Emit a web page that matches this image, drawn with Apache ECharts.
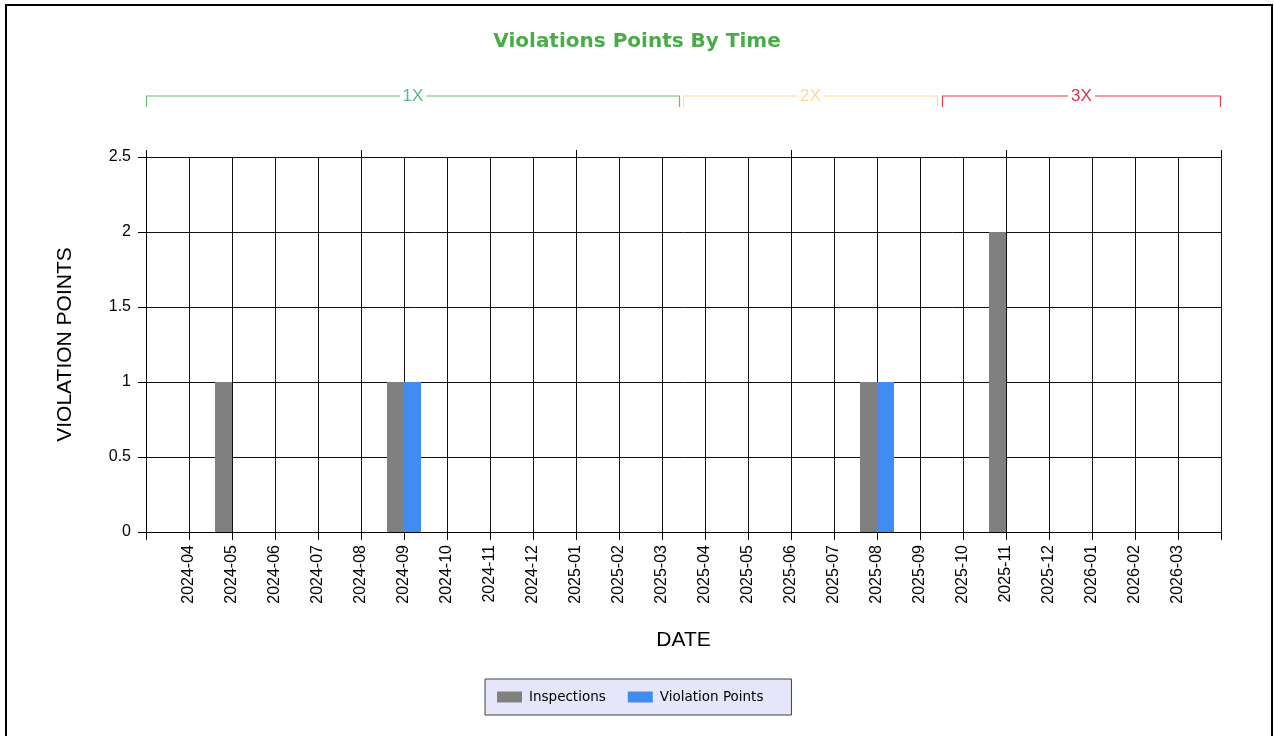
<!DOCTYPE html>
<html>
<head>
<meta charset="utf-8">
<script src="https://cdn.jsdelivr.net/npm/echarts@6/dist/echarts.min.js"></script>
<style>
html,body{margin:0;padding:0;background:#fff;}
#chart{width:1274px;height:736px;}
</style>
</head>
<body>
<div id="chart"></div>
<script>
// ---- data ----
const categories = ['2024-04','2024-05','2024-06','2024-07','2024-08','2024-09','2024-10','2024-11','2024-12',
  '2025-01','2025-02','2025-03','2025-04','2025-05','2025-06','2025-07','2025-08','2025-09','2025-10','2025-11',
  '2025-12','2026-01','2026-02','2026-03'];
const inspections =     [0,1,0,0,0,1,0,0,0,0,0,0,0,0,0,0,1,0,0,2,0,0,0,0];
const violationPoints = [0,0,0,0,0,1,0,0,0,0,0,0,0,0,0,0,1,0,0,0,0,0,0,0];
const yTicks = [0, 0.5, 1, 1.5, 2, 2.5];
// zones in axis units (0 = left edge, 25 = right edge)
const zoneNames = ['1X','2X','3X'];
const zoneStart = [0, 12.49, 18.51];
const zoneEnd =   [12.42, 18.42, 25];
const zoneColors = ['#6cbb6c','#ffd9a0','#e0404a'];
const zoneTextColors = ['#56b88a','#ffd59a','#e0304a'];

// padded axis (one empty slot each side)
const axisCats = [''].concat(categories, ['']);
const pad = arr => [null].concat(arr, [null]);

const chart = echarts.init(document.getElementById('chart'));
const option = {
  animation: false,
  backgroundColor: '#fff',
  title: {
    text: 'Violations Points By Time',
    left: 'center', top: 27,
    textStyle: {fontFamily: 'DejaVu Sans', fontWeight: 'bold', fontSize: 20, color: '#48ad48'}
  },
  legend: {
    bottom: 21, left: 485,
    backgroundColor: '#e6e6fa', borderColor: '#404040', borderWidth: 1,
    padding: [11, 28, 11, 12],
    itemWidth: 25, itemHeight: 11, itemGap: 22,
    icon: 'rect',
    textStyle: {fontFamily: 'DejaVu Sans', fontSize: 13.5, color: '#000', padding: [0, 0, 0, 2]},
    data: ['Inspections', 'Violation Points']
  },
  grid: {left: 146, right: 53, top: 157, bottom: 204, containLabel: false},
  xAxis: [{
    type: 'category', data: axisCats, boundaryGap: false,
    name: 'DATE', nameLocation: 'middle', nameGap: 98,
    nameTextStyle: {fontFamily: 'Liberation Sans', fontSize: 21, color: '#000'},
    axisLine: {show: true, lineStyle: {color: '#000', width: 1}},
    axisTick: {show: true, interval: 0, length: 8, lineStyle: {color: '#000'}},
    axisLabel: {interval: 0, rotate: 90, margin: 13, fontFamily: 'Liberation Sans', fontSize: 16, color: '#000'},
    splitLine: {show: true, interval: 0, lineStyle: {color: '#111', width: 1}}
  }, {
    type: 'value', position: 'top', min: 0, max: 25, interval: 5,
    axisLine: {show: false},
    axisTick: {show: true, length: 7, lineStyle: {color: '#000'}},
    axisLabel: {show: false},
    splitLine: {show: false}
  }],
  yAxis: {
    type: 'value', min: yTicks[0], max: yTicks[yTicks.length - 1], interval: yTicks[1] - yTicks[0],
    name: 'VIOLATION POINTS', nameLocation: 'middle', nameGap: 70, nameRotate: 90,
    nameTextStyle: {fontFamily: 'Liberation Sans', fontSize: 21, color: '#000'},
    axisLine: {show: true, lineStyle: {color: '#000', width: 1}},
    axisTick: {show: true, length: 8, lineStyle: {color: '#000'}},
    axisLabel: {margin: 15, fontFamily: 'Liberation Sans', fontSize: 16, color: '#000'},
    splitLine: {show: true, lineStyle: {color: '#111', width: 1}}
  },
  series: [{
    name: 'Inspections', type: 'bar', xAxisIndex: 0, data: pad(inspections),
    barWidth: 17, barGap: '0%', itemStyle: {color: '#808080'}
  }, {
    name: 'Violation Points', type: 'bar', xAxisIndex: 0, data: pad(violationPoints),
    barWidth: 17, barGap: '0%', itemStyle: {color: '#418cf0'}
  }]
};
chart.setOption(option);

// zone brackets and page border
const graphics = [{
  type: 'rect', silent: true, z: 100,
  shape: {x: 6, y: 5, width: 1266, height: 760},
  style: {fill: 'none', stroke: '#000', lineWidth: 2}
}];
const lineY = 96, endY = 107;
zoneNames.forEach((nm, i) => {
  const x1 = Math.round(chart.convertToPixel({xAxisIndex: 1}, zoneStart[i])) + 0.5;
  const x2 = Math.round(chart.convertToPixel({xAxisIndex: 1}, zoneEnd[i])) - 0.5;
  graphics.push({
    type: 'polyline', silent: true,
    shape: {points: [[x1, endY], [x1, lineY], [x2, lineY], [x2, endY]]},
    style: {fill: 'none', stroke: zoneColors[i], lineWidth: 1.2}
  });
  graphics.push({
    type: 'text', silent: true, z: 101,
    x: (x1 + x2) / 2, y: lineY,
    style: {text: nm, fill: zoneTextColors[i], font: '17px "Liberation Sans"',
      align: 'center', verticalAlign: 'middle', backgroundColor: '#fff', padding: [0, 3]}
  });
});
chart.setOption({graphic: graphics});
</script>
</body>
</html>
